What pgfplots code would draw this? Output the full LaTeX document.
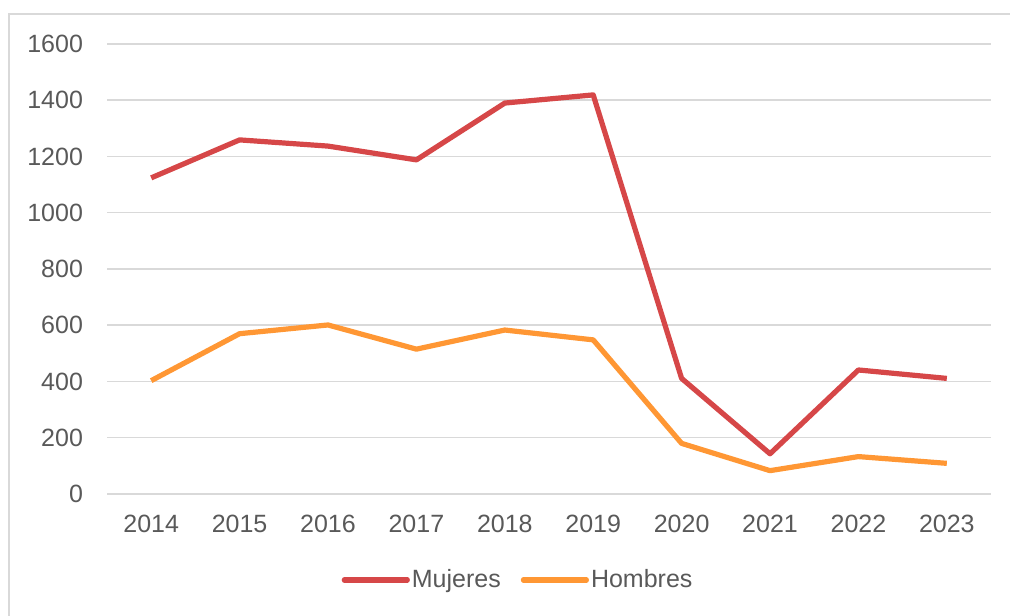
\documentclass[border=0pt]{standalone}
\usepackage{fontspec}
\setmainfont{Liberation Sans}
\usepackage{pgfplots}
\pgfplotsset{compat=1.18}
\definecolor{mujeres}{RGB}{214,71,72}
\definecolor{hombres}{RGB}{255,151,52}
\definecolor{gridc}{RGB}{217,217,217}
\definecolor{txt}{RGB}{89,89,89}
\begin{document}
\begin{tikzpicture}[x=1pt,y=1pt]
\path[use as bounding box] (0,0) rectangle (505,307.5);
\draw[gridc, line width=0.8pt] (4.5,-5) -- (4.5,300.5) -- (510,300.5);
\begin{axis}[
    at={(53.5pt,60.5pt)}, anchor=south west,
    scale only axis,
    width=442pt, height=225pt,
    xmin=-0.5, xmax=9.5,
    ymin=0, ymax=1600,
    xtick={0,...,9},
    xticklabels={2014,2015,2016,2017,2018,2019,2020,2021,2022,2023},
    ytick={0,200,...,1600},
    ymajorgrids,
    grid style={gridc, line width=0.75pt},
    axis line style={draw=none},
    tick style={draw=none},
    font=\fontsize{12.5}{14}\selectfont,
    ticklabel style={text=txt},
    yticklabel style={xshift=-8.5pt},
    xticklabel style={yshift=-7pt},
    /pgf/number format/assume math mode=true,
    /pgf/number format/1000 sep={},
    legend columns=2,
    legend style={at={(axis description cs:0.465,-0.191)}, anchor=center,
        draw=none, fill=none, text=txt, inner sep=0pt,
        nodes={inner xsep=1pt},
        /tikz/every even column/.append style={column sep=9pt}},
    legend image code/.code={\draw[#1, line cap=round] (0pt,0pt) -- (31.5pt,0pt);},
]
\addplot[mujeres, line width=2.6pt, line join=round] coordinates {
    (0,1124) (1,1259) (2,1237) (3,1188) (4,1390)
    (5,1419) (6,411) (7,143) (8,441) (9,411)
};
\addplot[hombres, line width=2.6pt, line join=round] coordinates {
    (0,403) (1,570) (2,601) (3,515) (4,583)
    (5,548) (6,180) (7,83) (8,133) (9,109)
};
\legend{Mujeres,Hombres}
\end{axis}
\end{tikzpicture}
\end{document}
